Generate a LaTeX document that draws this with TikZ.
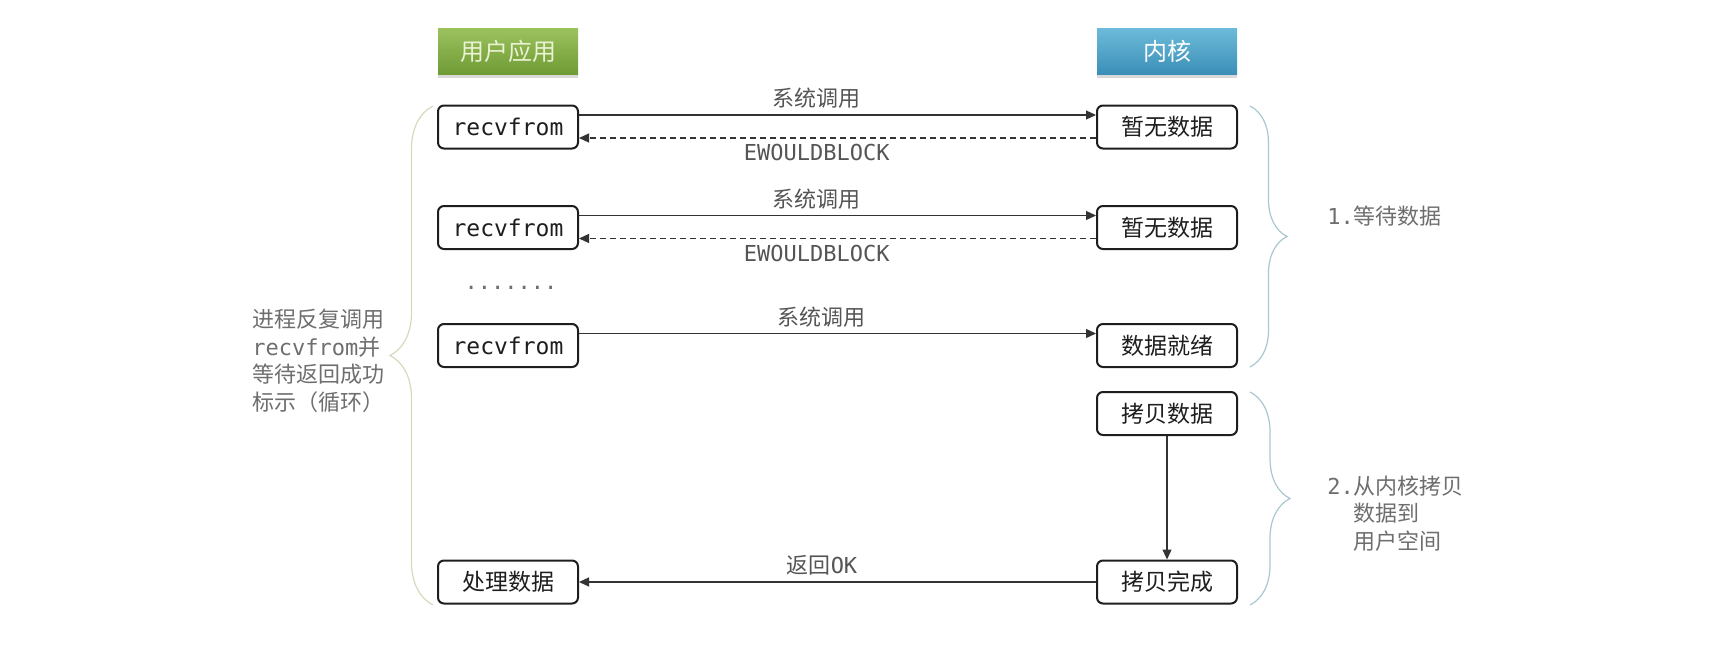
\documentclass[tikz,border=0pt]{standalone}
\usepackage{fontspec}
\setmainfont{Noto Sans CJK SC}
\newfontfamily\mono{DejaVu Sans Mono}
\usetikzlibrary{arrows.meta}
\usetikzlibrary{decorations.pathreplacing}
\usetikzlibrary{shadows}

\definecolor{boxline}{HTML}{1E1E1E}
\definecolor{labelgray}{HTML}{555555}
\definecolor{notegray}{HTML}{6E6E6E}
\definecolor{greentop}{HTML}{9CC25E}
\definecolor{greenbot}{HTML}{6F9B35}
\definecolor{greentext}{HTML}{EAF2D4}
\definecolor{bluetop}{HTML}{6DBBDA}
\definecolor{bluebot}{HTML}{3B8FB7}
\definecolor{bracegreen}{HTML}{D6DABD}
\definecolor{braceblue}{HTML}{A9C7D1}

\tikzset{
  head/.style={minimum width=70pt,minimum height=23pt,inner sep=0pt,
    font=\fontsize{12}{14}\selectfont,
    drop shadow={opacity=0.3,shadow xshift=0pt,shadow yshift=-2pt}},
  stepbox/.style={draw=boxline,line width=1pt,rounded corners=3pt,fill=white,
    minimum width=70pt,minimum height=21.5pt,inner sep=0pt,
    font=\fontsize{11.5}{13}\selectfont,text=boxline},
  call/.style={draw=black!80,line width=0.6pt,-{Triangle[length=5pt,width=4.5pt]}},
  reply/.style={call,dash pattern=on 3pt off 2pt},
  lbl/.style={font=\fontsize{11}{13}\selectfont,text=labelgray,inner sep=1pt},
  note/.style={font=\fontsize{11}{13.75}\selectfont,text=notegray,align=left,inner sep=0pt},
  bracel/.style={decorate,decoration={brace,amplitude=#1},line width=0.6pt}
}

\begin{document}
\begin{tikzpicture}[x=0.5pt,y=-0.5pt]
  \useasboundingbox (0,0) rectangle (1730,648);
  % 标题
  \node[head,top color=greentop,bottom color=greenbot,text=greentext] (user) at (508,51) {用户应用};
  \node[head,top color=bluetop,bottom color=bluebot,text=white] (kernel) at (1167,51) {内核};

  % 用户应用一侧
  \node[stepbox] (rf1) at (508,127) {\mono recvfrom};
  \node[stepbox] (rf2) at (508,227.5) {\mono recvfrom};
  \node[lbl,text=notegray,anchor=base] (dots) at (511,289) {\mono .......};
  \node[stepbox] (rf3) at (508,345.5) {\mono recvfrom};
  \node[stepbox] (proc) at (508,582) {处理数据};

  % 内核一侧
  \node[stepbox] (nd1) at (1167,127) {暂无数据};
  \node[stepbox] (nd2) at (1167,227.5) {暂无数据};
  \node[stepbox] (ready) at (1167,345.5) {数据就绪};
  \node[stepbox] (copy) at (1167,413.5) {拷贝数据};
  \node[stepbox] (done) at (1167,582) {拷贝完成};

  % 调用与返回
  \draw[call] ([yshift=6pt]rf1.east) -- node[lbl,above=2pt,pos=0.46] {系统调用} ([yshift=6pt]nd1.west);
  \draw[reply] ([yshift=-5.5pt]nd1.west) -- node[lbl,below=2pt,pos=0.54] {\mono EWOULDBLOCK} ([yshift=-5.5pt]rf1.east);
  \draw[call] ([yshift=6pt]rf2.east) -- node[lbl,above=2pt,pos=0.46] {系统调用} ([yshift=6pt]nd2.west);
  \draw[reply] ([yshift=-5.5pt]nd2.west) -- node[lbl,below=2pt,pos=0.54] {\mono EWOULDBLOCK} ([yshift=-5.5pt]rf2.east);
  \draw[call] ([yshift=6pt]rf3.east) -- node[lbl,above=2pt,pos=0.47] {系统调用} ([yshift=6pt]ready.west);
  \draw[call] (copy.south) -- (done.north);
  \draw[call] (done.west) -- node[lbl,above=2pt,pos=0.53] {返回{\mono OK}} (proc.east);

  % 括号
  \coordinate (lb) at (433,605);
  \coordinate (lt) at (433,106);
  \draw[bracel=21.5pt,draw=bracegreen] (lb) -- (lt);
  \coordinate (r1t) at (1250,106);
  \coordinate (r1b) at (1250,367);
  \draw[bracel=18.5pt,draw=braceblue] (r1t) -- (r1b);
  \coordinate (r2t) at (1250,392);
  \coordinate (r2b) at (1250,605);
  \draw[bracel=20pt,draw=braceblue] (r2t) -- (r2b);

  % 说明
  \node[note,anchor=west] (loop) at (252,361) {进程反复调用\\{\mono recvfrom}并\\等待返回成功\\标示（循环）};
  \node[note,anchor=west] (wait) at (1327,216) {{\mono 1.}等待数据};
  \node[note,anchor=west] (copynote) at (1327,513.5) {{\mono 2.}从内核拷贝\\\phantom{\mono 2.}数据到\\\phantom{\mono 2.}用户空间};
\end{tikzpicture}
\end{document}
